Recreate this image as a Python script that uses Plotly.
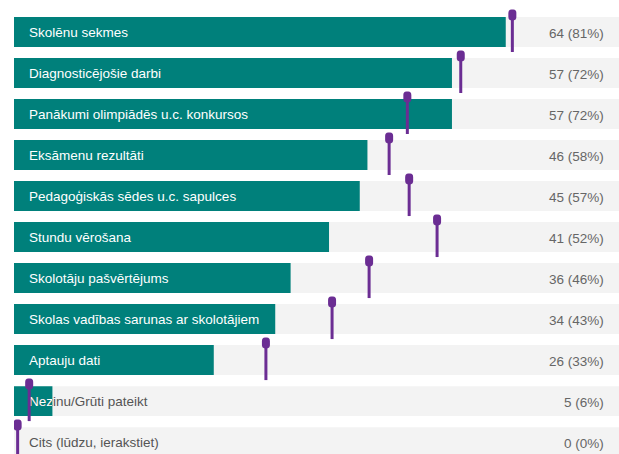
import plotly.graph_objects as go

categories = [
    "Skolēnu sekmes",
    "Diagnosticējošie darbi",
    "Panākumi olimpiādēs u.c. konkursos",
    "Eksāmenu rezultāti",
    "Pedagoģiskās sēdes u.c. sapulces",
    "Stundu vērošana",
    "Skolotāju pašvērtējums",
    "Skolas vadības sarunas ar skolotājiem",
    "Aptauju dati",
    "Nezinu/Grūti pateikt",
    "Cits (lūdzu, ierakstiet)",
]
counts = [64, 57, 57, 46, 45, 41, 36, 34, 26, 5, 0]
total = 79
# comparison markers (percent)
marker_pct = [82.1, 73.6, 64.8, 61.8, 65.1, 69.7, 58.5, 52.4, 41.5, 2.5, 0.6]

TEAL = "#00807b"
TRACK = "#f3f3f3"
PURPLE = "#6b2d93"
FONT = "Liberation Sans, Arial, sans-serif"

W, H = 619, 454
ML = 14
XMAX = 99.67
ROW_PX = 41                    # pixels per category row
ppu = (W - ML) / XMAX          # pixels per percent unit
text_x = 15 / ppu              # 15px label padding
text_dy = 1.5 / ROW_PX         # nudge labels 1.5px down

pct = [c / total * 100 for c in counts]
ys = list(range(len(categories)))
ys_text = [y + text_dy for y in ys]
inside = [p > 30 for p in pct]

fig = go.Figure()
fig.add_trace(go.Bar(
    x=[100] * len(categories), y=ys, orientation="h", width=0.73,
    marker=dict(color=TRACK, line=dict(width=0)), hoverinfo="skip", showlegend=False,
))
fig.add_trace(go.Bar(
    x=pct, y=ys, orientation="h", width=0.73,
    marker=dict(color=TEAL, line=dict(width=0), cornerradius=3),
    hoverinfo="skip", showlegend=False,
))
# category labels (white when bar holds them, grey otherwise)
fig.add_trace(go.Scatter(
    x=[text_x] * len(categories), y=ys_text, mode="text", text=categories,
    textposition="middle right",
    textfont=dict(family=FONT, size=13.5,
                  color=["#ffffff" if f else "#555555" for f in inside]),
    hoverinfo="skip", showlegend=False, cliponaxis=False,
))
# white part of the partly covered label, clipped to the short bar
part = [i for i, (f, p) in enumerate(zip(inside, pct)) if not f and p > 0]
if part:
    k = part[0]
    fig.add_trace(go.Scatter(
        x=[text_x], y=[ys_text[k]], mode="text", text=[categories[k]],
        textposition="middle right", xaxis="x2",
        textfont=dict(family=FONT, size=13.5, color="#ffffff"),
        hoverinfo="skip", showlegend=False, cliponaxis=True,
    ))
    fig.update_layout(xaxis2=dict(domain=[0, pct[k] / XMAX], range=[0, pct[k]],
                                  visible=False, fixedrange=True, anchor="y"))

annotations = []
shapes = []
for i, (c, p, m) in enumerate(zip(counts, pct, marker_pct)):
    annotations.append(dict(
        x=1, y=i, xref="paper", yref="y", text=f"{c} ({round(p)}%)", showarrow=False,
        xanchor="right", xshift=-13, yshift=-1.5,
        font=dict(family=FONT, size=13.5, color="#666666"),
    ))
    # marker stem
    shapes.append(dict(
        type="line", xref="x", yref="y", xsizemode="pixel", ysizemode="pixel",
        xanchor=m, yanchor=i, x0=0, x1=0, y0=15, y1=-20,
        line=dict(color=PURPLE, width=3), layer="above",
    ))
    # marker head
    shapes.append(dict(
        type="path", xref="x", yref="y", xsizemode="pixel", ysizemode="pixel",
        xanchor=m, yanchor=i,
        path="M -4,15 L -4,19 Q -4,22.5 -1,22.5 L 1,22.5 Q 4,22.5 4,19 L 4,15 Q 4,12 1,11.5 L -1,11.5 Q -4,12 -4,15 Z",
        fillcolor=PURPLE, line=dict(color=PURPLE, width=0), layer="above",
    ))

fig.update_layout(
    width=W, height=H,
    margin=dict(l=ML, r=0, t=0, b=0),
    paper_bgcolor="white", plot_bgcolor="rgba(0,0,0,0)",
    barmode="overlay",
    xaxis=dict(range=[0, XMAX], visible=False, fixedrange=True),
    yaxis=dict(range=[10.29, -0.78], visible=False, fixedrange=True),
    annotations=annotations, shapes=shapes,
)

fig.write_html(
    "out.html",
    config={"displayModeBar": False},
    post_script="document.body.style.margin='0';document.body.style.overflow='hidden';",
)
